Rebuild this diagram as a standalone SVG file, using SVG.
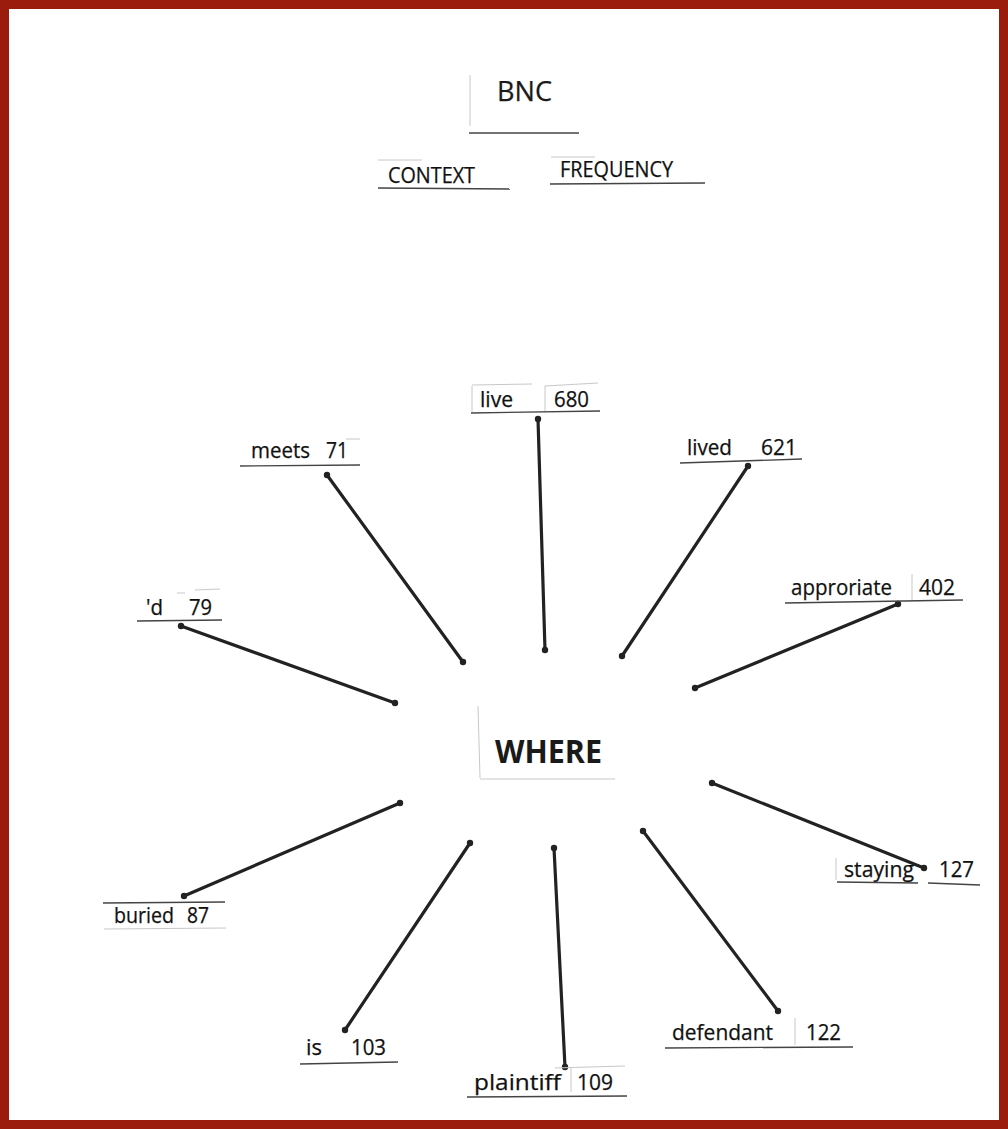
<svg xmlns="http://www.w3.org/2000/svg" width="1008" height="1129" viewBox="0 0 1008 1129">
<style>
.t{font-family:"Open Sans","Noto Sans",sans-serif;font-size:21.5px;fill:#111;stroke:#111;stroke-width:0.25}
.h{font-family:"Open Sans","Noto Sans",sans-serif;font-size:27px;fill:#1a1a1a;stroke:#1a1a1a;stroke-width:0.25}
.w{font-family:"Open Sans","Noto Sans",sans-serif;font-size:32px;font-weight:bold;fill:#1a1a1a}
.u{stroke:#444;stroke-width:1.3;fill:none}
.g{stroke:#c8c8c8;stroke-width:1;fill:none}
.c{stroke:#222;stroke-width:3.2;stroke-linecap:round;fill:none;marker-start:url(#dot);marker-end:url(#dot)}
</style>
<defs>
<marker id="dot" viewBox="0 0 10 10" refX="5" refY="5" markerWidth="2.2" markerHeight="2.2" markerUnits="strokeWidth">
<circle cx="5" cy="5" r="4.5" fill="#222"/>
</marker>
</defs>
<rect x="0" y="0" width="1008" height="1129" fill="#fff"/>
<rect x="4.5" y="4.5" width="999" height="1120" fill="none" stroke="#9b1c0c" stroke-width="9"/>

<g id="header">
<g id="bnc"><text class="h" x="497" y="101" textLength="55" lengthAdjust="spacingAndGlyphs">BNC</text><line class="u" x1="469" y1="133" x2="579" y2="133"/><line class="g" x1="470" y1="75" x2="470" y2="126"/></g>
<g id="context"><text class="t" x="388" y="183" textLength="87" lengthAdjust="spacingAndGlyphs">CONTEXT</text><line class="u" x1="378" y1="188" x2="510" y2="189"/><line class="g" x1="378" y1="160" x2="422" y2="160"/></g>
<g id="frequency"><text class="t" x="560" y="177" textLength="113" lengthAdjust="spacingAndGlyphs">FREQUENCY</text><line class="u" x1="550" y1="184" x2="705" y2="183"/><line class="g" x1="551" y1="157" x2="595" y2="157"/></g>
</g>

<g id="connectors">
<line class="c" x1="538" y1="419" x2="545" y2="650"/>
<line class="c" x1="748" y1="466" x2="622" y2="656"/>
<line class="c" x1="327" y1="475" x2="463" y2="662"/>
<line class="c" x1="898" y1="604" x2="695" y2="688"/>
<line class="c" x1="181" y1="626" x2="395" y2="703"/>
<line class="c" x1="712" y1="783" x2="924" y2="868"/>
<line class="c" x1="400" y1="803" x2="184" y2="896"/>
<line class="c" x1="470" y1="843" x2="345" y2="1030"/>
<line class="c" x1="554" y1="848" x2="565" y2="1067"/>
<line class="c" x1="643" y1="831" x2="778" y2="1011"/>
</g>

<g id="where"><text class="w" x="495" y="763" textLength="107" lengthAdjust="spacingAndGlyphs">WHERE</text><line class="g" x1="478" y1="706" x2="480" y2="778"/><line class="g" x1="480" y1="779" x2="615" y2="779"/></g>

<g id="live"><text class="t" x="480" y="407" textLength="33" lengthAdjust="spacingAndGlyphs">live</text><text class="t" x="554" y="407" textLength="35" lengthAdjust="spacingAndGlyphs">680</text><line class="u" x1="471" y1="413" x2="600" y2="411"/><line class="g" x1="472" y1="385" x2="532" y2="384"/><line class="g" x1="545" y1="386" x2="598" y2="383"/><line class="g" x1="472" y1="386" x2="472" y2="412"/><line class="g" x1="545" y1="386" x2="545" y2="411"/></g>

<g id="meets"><text class="t" x="251" y="458" textLength="59" lengthAdjust="spacingAndGlyphs">meets</text><text class="t" x="326" y="458" textLength="22" lengthAdjust="spacingAndGlyphs">71</text><line class="u" x1="240" y1="466" x2="360" y2="465"/><line class="g" x1="346" y1="439" x2="360" y2="439"/></g>

<g id="lived"><text class="t" x="687" y="455" textLength="45" lengthAdjust="spacingAndGlyphs">lived</text><text class="t" x="761" y="455" textLength="36" lengthAdjust="spacingAndGlyphs">621</text><line class="u" x1="680" y1="463" x2="802" y2="459"/></g>

<g id="approriate"><text class="t" x="791" y="595" textLength="101" lengthAdjust="spacingAndGlyphs">approriate</text><text class="t" x="919" y="595" textLength="36" lengthAdjust="spacingAndGlyphs">402</text><line class="u" x1="785" y1="603" x2="963" y2="600"/><line class="g" x1="912" y1="574" x2="912" y2="600"/></g>

<g id="d"><text class="t" x="146" y="615" textLength="17" lengthAdjust="spacingAndGlyphs">'d</text><text class="t" x="189" y="615" textLength="23" lengthAdjust="spacingAndGlyphs">79</text><line class="u" x1="137" y1="621" x2="222" y2="620"/><line class="g" x1="177" y1="593" x2="185" y2="593"/><line class="g" x1="195" y1="590" x2="220" y2="589"/></g>

<g id="staying"><text class="t" x="844" y="877" textLength="70" lengthAdjust="spacingAndGlyphs">staying</text><text class="t" x="939" y="877" textLength="35" lengthAdjust="spacingAndGlyphs">127</text><line class="u" x1="837" y1="882" x2="918" y2="883"/><line class="u" x1="928" y1="883" x2="980" y2="885"/><line class="g" x1="836" y1="858" x2="836" y2="880"/></g>

<g id="buried"><text class="t" x="114" y="923" textLength="60" lengthAdjust="spacingAndGlyphs">buried</text><text class="t" x="187" y="923" textLength="22" lengthAdjust="spacingAndGlyphs">87</text><line class="u" x1="103" y1="903" x2="225" y2="902"/><line class="g" x1="104" y1="929" x2="226" y2="928"/></g>

<g id="is"><text class="t" x="306" y="1055" textLength="16" lengthAdjust="spacingAndGlyphs">is</text><text class="t" x="351" y="1055" textLength="35" lengthAdjust="spacingAndGlyphs">103</text><line class="u" x1="300" y1="1064" x2="398" y2="1062"/></g>

<g id="plaintiff"><text class="t" x="474" y="1090" textLength="87" lengthAdjust="spacingAndGlyphs">plaintiff</text><text class="t" x="577" y="1090" textLength="36" lengthAdjust="spacingAndGlyphs">109</text><line class="u" x1="467" y1="1097" x2="627" y2="1096"/><line class="g" x1="571" y1="1068" x2="571" y2="1092"/><line class="g" x1="555" y1="1068" x2="625" y2="1066"/></g>

<g id="defendant"><text class="t" x="672" y="1040" textLength="101" lengthAdjust="spacingAndGlyphs">defendant</text><text class="t" x="806" y="1040" textLength="35" lengthAdjust="spacingAndGlyphs">122</text><line class="u" x1="665" y1="1048" x2="853" y2="1047"/><line class="g" x1="795" y1="1018" x2="795" y2="1045"/></g>
</svg>
